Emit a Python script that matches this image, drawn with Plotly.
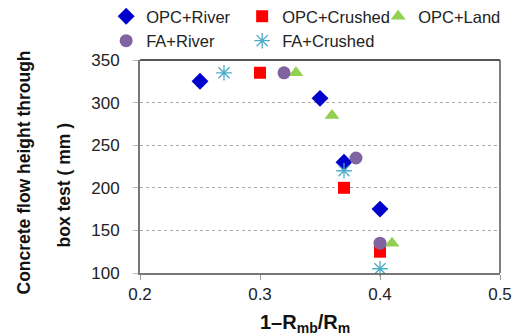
import plotly.graph_objects as go

series_names = ["OPC+River", "OPC+Crushed", "OPC+Land", "FA+River", "FA+Crushed"]
opc_river_x = [0.25, 0.35, 0.37, 0.40]
opc_river_y = [325, 305, 230, 175]
opc_crushed_x = [0.30, 0.37, 0.40]
opc_crushed_y = [335, 200, 125]
opc_land_x = [0.33, 0.36, 0.41]
opc_land_y = [335, 285, 135]
fa_river_x = [0.32, 0.38, 0.40]
fa_river_y = [335, 235, 135]
fa_crushed_x = [0.27, 0.37, 0.40]
fa_crushed_y = [335, 220, 105]

x_ticks = [0.2, 0.3, 0.4, 0.5]
y_ticks = [100, 150, 200, 250, 300, 350]
y_title_lines = ["Concrete flow height through", "box test ( mm )"]
x_title = "1–R<sub>mb</sub>/R<sub>m</sub>"

xs = [opc_river_x, opc_crushed_x, opc_land_x, fa_river_x, fa_crushed_x]
ys = [opc_river_y, opc_crushed_y, opc_land_y, fa_river_y, fa_crushed_y]
symbols = ["diamond", "square", "triangle-up", "circle", "asterisk-open"]
colors = ["#0000CC", "#FF0000", "#92D050", "#8064A2", "#4BACC6"]
sizes = [13, 12, 13, 13, 13]

fig = go.Figure()
for name, x, y, s, c, sz in zip(series_names, xs, ys, symbols, colors, sizes):
    marker = dict(symbol=s, color=c, size=sz)
    if s == "asterisk-open":
        marker["line"] = dict(color=c, width=1.3)
    else:
        marker["line"] = dict(width=0)
    fig.add_trace(go.Scatter(x=x, y=y, mode="markers", name=name, marker=marker, cliponaxis=False))

PLOT_H = 336 - 63 - 60
PLOT_W = 520 - 140 - 20
fig.update_layout(
    width=520, height=336,
    margin=dict(l=140, r=20, t=60, b=63, autoexpand=False),
    paper_bgcolor="white", plot_bgcolor="white",
    font=dict(family="Liberation Sans, Arial", size=15, color="#222"),
    showlegend=True,
    legend=dict(
        orientation="h", x=-0.094, xanchor="left", y=1 + 61 / PLOT_H, yanchor="top",
        entrywidth=91, entrywidthmode="pixels",
        font=dict(size=16.5, color="#222"), itemwidth=30, tracegroupgap=0,
        bgcolor="rgba(0,0,0,0)",
    ),
    xaxis=dict(
        range=[0.2, 0.5], tickvals=x_ticks, ticktext=["0.2", "0.3", "0.4", "0.5"],
        showline=True, linecolor="#777", linewidth=2, mirror=False, automargin=False,
        ticks="outside", ticklen=5, tickcolor="#999", showgrid=False, zeroline=False,
        tickfont=dict(size=17),
    ),
    yaxis=dict(
        range=[100, 350], tickvals=y_ticks, automargin=False,
        showline=True, linecolor="#777", linewidth=2, mirror=False,
        ticks="outside", ticklen=5, tickcolor="#bbb", ticklabelstandoff=10,
        tickfont=dict(size=17),
        showgrid=True, gridcolor="#aaa", griddash="dot", gridwidth=1, zeroline=False,
    ),
)
# y axis title lines
for txt, px, ysh in zip(y_title_lines, [23, 63], [-6, -19]):
    fig.add_annotation(text="<b>" + txt + "</b>", xref="paper", yref="paper",
                       x=0, y=0.5, xshift=px - 140, yshift=ysh,
                       textangle=-90, showarrow=False, xanchor="center", yanchor="middle",
                       font=dict(size=17.5, color="#111"))
# x axis title
fig.add_annotation(text="<b>" + x_title + "</b>", xref="paper", yref="paper",
                   x=(305 - 140) / PLOT_W, y=0, yshift=-(323 - 273), showarrow=False,
                   xanchor="center", yanchor="middle", font=dict(size=20, color="#111"))
# top and right frame lines
fig.add_shape(type="line", xref="paper", yref="paper", x0=0, x1=1, y0=1, y1=1, line=dict(color="#555", width=2))
fig.add_shape(type="line", xref="paper", yref="paper", x0=1, x1=1, y0=0, y1=1, line=dict(color="#555", width=1.5))

fig.write_html("out.html", config={"displayModeBar": False},
               post_script="document.body.style.margin='0';")
